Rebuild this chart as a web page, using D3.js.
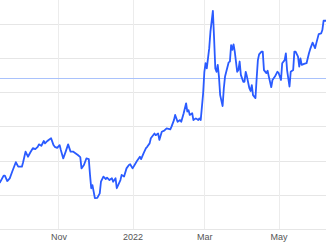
<!DOCTYPE html>
<html><head><meta charset="utf-8">
<script src="https://cdn.jsdelivr.net/npm/d3@7"></script>
<style>html,body{margin:0;padding:0;background:#fff;overflow:hidden}</style>
</head><body>
<svg id="chart" width="326" height="245"></svg>
<script>
const dates = ["2021-09-14","2021-09-17","2021-09-18","2021-09-20","2021-09-22","2021-09-24","2021-09-27","2021-09-29","2021-10-02","2021-10-03",
"2021-10-05","2021-10-07","2021-10-09","2021-10-11","2021-10-13","2021-10-15","2021-10-16","2021-10-18","2021-10-20","2021-10-21",
"2021-10-23","2021-10-24","2021-10-26","2021-10-28","2021-10-29","2021-10-31","2021-11-02","2021-11-03","2021-11-05","2021-11-07",
"2021-11-09","2021-11-11","2021-11-13","2021-11-15","2021-11-17","2021-11-19","2021-11-20","2021-11-22","2021-11-24","2021-11-26",
"2021-11-27","2021-11-28","2021-11-29","2021-12-01","2021-12-03","2021-12-05","2021-12-06","2021-12-08","2021-12-10","2021-12-11",
"2021-12-13","2021-12-15","2021-12-16","2021-12-18","2021-12-19","2021-12-22","2021-12-23","2021-12-25","2021-12-27","2021-12-29",
"2021-12-30","2022-01-01","2022-01-03","2022-01-05","2022-01-07","2022-01-08","2022-01-10","2022-01-12","2022-01-13","2022-01-15",
"2022-01-16","2022-01-19","2022-01-20","2022-01-22","2022-01-23","2022-01-25","2022-01-27","2022-01-29","2022-02-01","2022-02-02",
"2022-02-04","2022-02-05","2022-02-07","2022-02-09","2022-02-10","2022-02-12","2022-02-14","2022-02-15","2022-02-16","2022-02-17",
"2022-02-19","2022-02-20","2022-02-22","2022-02-24","2022-02-25","2022-02-26","2022-02-28","2022-03-01","2022-03-02","2022-03-03",
"2022-03-05","2022-03-06","2022-03-08","2022-03-09","2022-03-10","2022-03-11","2022-03-12","2022-03-13","2022-03-14","2022-03-16",
"2022-03-17","2022-03-18","2022-03-19","2022-03-21","2022-03-22","2022-03-23","2022-03-24","2022-03-25","2022-03-26","2022-03-28",
"2022-03-29","2022-03-30","2022-03-31","2022-04-02","2022-04-03","2022-04-04","2022-04-05","2022-04-07","2022-04-08","2022-04-09",
"2022-04-10","2022-04-12","2022-04-13","2022-04-14","2022-04-15","2022-04-17","2022-04-18","2022-04-19","2022-04-21","2022-04-22",
"2022-04-23","2022-04-25","2022-04-26","2022-04-28","2022-04-30","2022-05-01","2022-05-03","2022-05-04","2022-05-06","2022-05-07",
"2022-05-08","2022-05-10","2022-05-11","2022-05-13","2022-05-14","2022-05-15","2022-05-17","2022-05-18","2022-05-19","2022-05-20",
"2022-05-22","2022-05-24","2022-05-26","2022-05-27","2022-05-29","2022-05-31","2022-06-01","2022-06-03","2022-06-05","2022-06-06",
"2022-06-07","2022-06-09"];
const prices = [113.6,115.6,115.6,114.0,114.8,116.7,119.5,118.2,118.2,119.5,
122.6,121.1,122.4,123.6,123.3,124.0,124.7,124.3,125.7,125.0,
125.7,126.0,126.5,124.5,124.0,123.7,124.5,123.1,120.6,122.6,
124.7,122.6,122.6,122.1,121.6,121.0,117.7,118.7,120.6,120.4,
115.8,111.9,112.8,109.0,109.1,110.4,113.8,115.3,114.6,115.0,
114.3,114.8,113.8,114.8,111.9,114.3,115.8,115.3,117.7,118.7,
118.9,117.7,118.9,120.1,121.1,120.4,122.1,123.6,124.0,125.0,
126.5,127.9,127.4,127.9,126.0,128.4,128.7,129.4,129.1,129.9,
131.8,133.3,131.3,131.8,131.3,133.8,136.7,134.3,134.7,133.3,
133.8,131.8,132.3,131.8,132.3,131.8,139.6,145.9,148.4,146.9,
152.8,157.6,163.7,155.7,146.9,145.9,147.9,144.5,139.1,135.9,
141.1,144.5,145.9,148.7,148.9,153.7,152.3,153.9,151.8,145.9,
146.4,148.9,145.0,143.0,143.0,145.9,144.5,141.1,140.3,142.0,
139.1,138.2,144.0,149.3,151.0,151.8,151.8,146.4,145.5,146.2,
144.5,141.4,143.5,144.5,145.9,145.6,143.5,148.4,149.3,151.3,
146.4,141.6,145.9,146.4,151.8,151.8,150.3,147.4,149.8,147.9,
148.2,148.4,151.3,152.5,154.4,152.8,154.2,156.9,157.1,158.1,
160.8,160.8];
const xTickDates = ["2021-11-01","2022-01-01","2022-03-01","2022-05-01"];
const xTickLabels = ["Nov","2022","Mar","May"];
const yTicks = [100,110,120,130,140,150,160];
const previousClose = 144.2;

const W = 326, H = 245;
const parse = d3.timeParse("%Y-%m-%d");
const data = dates.map((d,i)=>({date:parse(d), value:prices[i]}));

const x = d3.scaleTime().domain([parse("2021-09-14"), parse("2022-06-09")]).range([0, W]);
const y = d3.scaleLinear().domain([100,160]).range([229, 23.5]);

const svg = d3.select("#chart");

// horizontal gridlines
svg.append("g").selectAll("line").data(yTicks).join("line")
  .attr("x1",0).attr("x2",W)
  .attr("y1",d=>Math.round(y(d))+0.5).attr("y2",d=>Math.round(y(d))+0.5)
  .attr("stroke","#e6e6e6").attr("stroke-width",1);

// vertical gridlines + labels via axis
const tickDates = xTickDates.map(parse);
svg.append("g").selectAll("line").data(tickDates).join("line")
  .attr("x1",d=>Math.round(x(d))+0.5).attr("x2",d=>Math.round(x(d))+0.5)
  .attr("y1",0).attr("y2",229)
  .attr("stroke","#ececec").attr("stroke-width",1);

const xAxis = d3.axisBottom(x).tickValues(tickDates)
  .tickFormat((d,i)=>xTickLabels[i]).tickSize(0).tickPadding(5);
const gx = svg.append("g").attr("transform","translate(0,229)").call(xAxis);
gx.select(".domain").remove();
gx.selectAll("text").attr("fill","#555").attr("font-size","9px")
  .attr("font-family","'Liberation Sans', Arial, sans-serif");

// previous close reference line
svg.append("line")
  .attr("x1",0).attr("x2",W)
  .attr("y1",Math.round(y(previousClose))+0.5).attr("y2",Math.round(y(previousClose))+0.5)
  .attr("stroke","#a9c2fc").attr("stroke-width",1);

// price line
const line = d3.line().x(d=>x(d.date)).y(d=>y(d.value));
svg.append("path").datum(data)
  .attr("fill","none").attr("stroke","#2a5bff").attr("stroke-width",1.8)
  .attr("stroke-linejoin","round").attr("stroke-linecap","round")
  .attr("d",line);
</script>
</body></html>
